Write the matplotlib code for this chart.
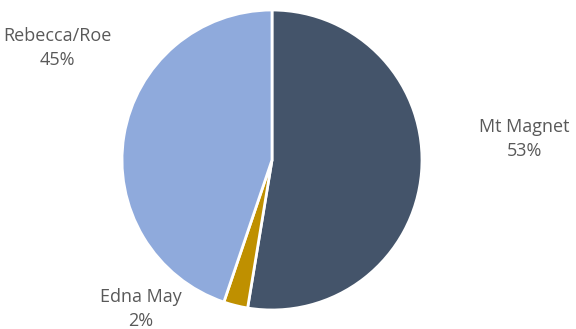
import matplotlib
matplotlib.use("Agg")
import matplotlib.pyplot as plt

names = ["Mt Magnet", "Edna May", "Rebecca/Roe"]
shares = [52.6, 2.6, 44.8]
pct_labels = ["53%", "2%", "45%"]
colors = ["#44546A", "#BF9000", "#8FAADC"]

plt.rcParams['font.family'] = ['Open Sans', 'DejaVu Sans']

W, H = 576, 329
fig = plt.figure(figsize=(W / 100, H / 100), dpi=100)
cx, cy, r = 272, 160, 150
ax = fig.add_axes([(cx - r) / W, (H - cy - r) / H, 2 * r / W, 2 * r / H])
ax.pie(shares, colors=colors, startangle=90, counterclock=False,
       radius=1, wedgeprops=dict(edgecolor="white", linewidth=2))
ax.set_xlim(-1, 1)
ax.set_ylim(-1, 1)
ax.set_aspect("equal")
ax.axis("off")

# label positions in pixels (x, y of text center)
label_pos = [(524, 139), (141, 309), (57, 48)]
for name, pct, (lx, ly) in zip(names, pct_labels, label_pos):
    fig.text(lx / W, (H - ly) / H, name + "\n" + pct, ha="center", va="center",
             fontsize=13, color="#595959", linespacing=1.4)

fig.savefig("out.png", dpi=100)
